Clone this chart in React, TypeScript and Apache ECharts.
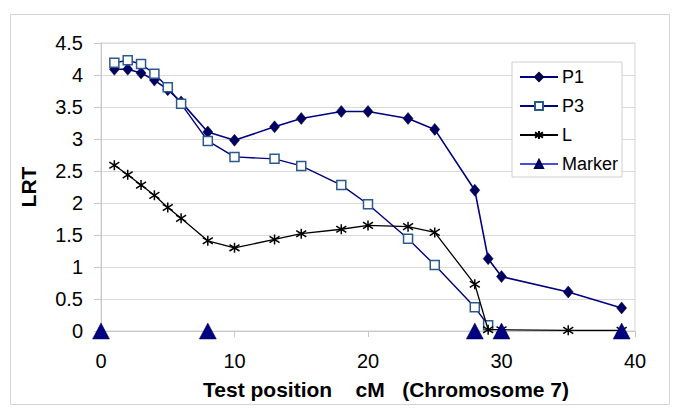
import React, { useEffect, useRef } from 'react';
import * as echarts from 'echarts';

const p1X = [1, 2, 3, 4, 5, 6, 8, 10, 13, 15, 18, 20, 23, 25, 28, 29, 30, 35, 39];
const p1Y = [4.09, 4.09, 4.03, 3.92, 3.77, 3.58, 3.11, 2.98, 3.19, 3.32, 3.43, 3.43, 3.32, 3.15, 2.2, 1.13, 0.85, 0.61, 0.36];
const p3X = [1, 2, 3, 4, 5, 6, 8, 10, 13, 15, 18, 20, 23, 25, 28, 29];
const p3Y = [4.19, 4.23, 4.17, 4.02, 3.81, 3.55, 2.97, 2.72, 2.69, 2.58, 2.28, 1.98, 1.44, 1.03, 0.37, 0.09];
const lX = [1, 2, 3, 4, 5, 6, 8, 10, 13, 15, 18, 20, 23, 25, 28, 29, 30, 35, 39];
const lY = [2.59, 2.44, 2.28, 2.12, 1.93, 1.76, 1.41, 1.3, 1.43, 1.52, 1.59, 1.65, 1.63, 1.54, 0.73, 0.02, 0.02, 0.01, 0.01];
const markerX = [0, 8, 28, 30, 39];
const markerY = [0, 0, 0, 0, 0];

const seriesNames = ['P1', 'P3', 'L', 'Marker'];
const xTitle = 'Test position    cM   (Chromosome 7)';
const yTitle = 'LRT';

const zip = (xs: number[], ys: number[]) => xs.map((x, i) => [x, ys[i]]);

const FONT = '"Liberation Sans", Arial, sans-serif';
const ASTERISK = 'path://M5,0L5,10M0,1.8L10,8.2M0,8.2L10,1.8';

export default function App() {
  const ref = useRef<HTMLDivElement>(null);
  useEffect(() => {
    document.body.style.margin = '0';
    const chart = echarts.init(ref.current!, null, { renderer: 'svg' });
    chart.setOption({
      animation: false,
      backgroundColor: '#ffffff',
      textStyle: { fontFamily: FONT },
      grid: {
        left: 101,
        right: 50,
        top: 43,
        bottom: 86,
        show: true,
        borderColor: '#d4d4d4',
        borderWidth: 1,
      },
      graphic: [
        {
          type: 'rect',
          shape: { x: 10.5, y: 14.5, width: 659, height: 390 },
          style: { fill: 'none', stroke: '#d4d4d4', lineWidth: 1 },
          silent: true,
          z: -1,
        },
      ],
      legend: {
        orient: 'vertical',
        left: 512,
        top: 62,
        width: 110,
        padding: [6, 4, 4, 7],
        backgroundColor: '#ffffff',
        borderColor: '#cfcfcf',
        borderWidth: 1,
        itemWidth: 38,
        itemHeight: 10,
        itemGap: 11,
        textStyle: { fontFamily: FONT, fontSize: 18, color: '#000', lineHeight: 18, padding: [0, 0, 0, -1] },
        data: [
          { name: seriesNames[0] },
          { name: seriesNames[1] },
          { name: seriesNames[2] },
          { name: seriesNames[3], lineStyle: { width: 1.5, opacity: 1, color: '#1010d0' } },
        ],
      },
      xAxis: {
        type: 'value',
        min: 0,
        max: 40,
        interval: 10,
        name: xTitle,
        nameLocation: 'middle',
        nameGap: 48,
        nameTextStyle: { fontFamily: FONT, fontSize: 21, fontWeight: 'bold', color: '#000', padding: [0, 0, 0, 36] },
        axisLine: { show: true, lineStyle: { color: '#c8c8c8', width: 1 } },
        axisTick: { show: true, inside: false, length: 6, lineStyle: { color: '#c8c8c8' } },
        axisLabel: { fontFamily: FONT, fontSize: 20, color: '#000', margin: 20 },
        splitLine: { show: false },
      },
      yAxis: {
        type: 'value',
        min: 0,
        max: 4.5,
        interval: 0.5,
        name: yTitle,
        nameLocation: 'middle',
        nameGap: 62,
        nameRotate: 90,
        nameTextStyle: { fontFamily: FONT, fontSize: 21, fontWeight: 'bold', color: '#000' },
        axisLine: { show: true, lineStyle: { color: '#c8c8c8', width: 1 } },
        axisTick: { show: true, inside: false, length: 7, lineStyle: { color: '#c8c8c8' } },
        axisLabel: { fontFamily: FONT, fontSize: 20, color: '#000', margin: 18 },
        splitLine: { show: true, lineStyle: { color: '#d9d9d9', width: 1 } },
      },
      series: [
        {
          name: seriesNames[0],
          type: 'line',
          data: zip(p1X, p1Y),
          symbol: 'diamond',
          symbolSize: [10, 12],
          lineStyle: { color: '#000080', width: 1.6 },
          itemStyle: { color: '#000060', borderColor: '#000040', borderWidth: 0.5 },
          z: 3,
        },
        {
          name: seriesNames[1],
          type: 'line',
          data: zip(p3X, p3Y),
          symbol: 'rect',
          symbolSize: 9,
          lineStyle: { color: '#000080', width: 1.4 },
          itemStyle: { color: '#ffffff', borderColor: '#2a5a8c', borderWidth: 1.5 },
          z: 4,
        },
        {
          name: seriesNames[2],
          type: 'line',
          data: zip(lX, lY),
          symbol: ASTERISK,
          symbolSize: 10,
          lineStyle: { color: '#000000', width: 1.3 },
          itemStyle: { color: '#000000', borderColor: '#000000', borderWidth: 1.5 },
          z: 5,
        },
        {
          name: seriesNames[3],
          type: 'line',
          data: zip(markerX, markerY),
          symbol: 'triangle',
          symbolSize: [17, 16],
          lineStyle: { width: 0, opacity: 0, color: '#1010d0' },
          itemStyle: { color: '#000080', borderColor: '#000050', borderWidth: 0.5 },
          z: 6,
        },
      ],
    });
    return () => chart.dispose();
  }, []);
  return <div ref={ref} style={{ width: 685, height: 417 }} />;
}
